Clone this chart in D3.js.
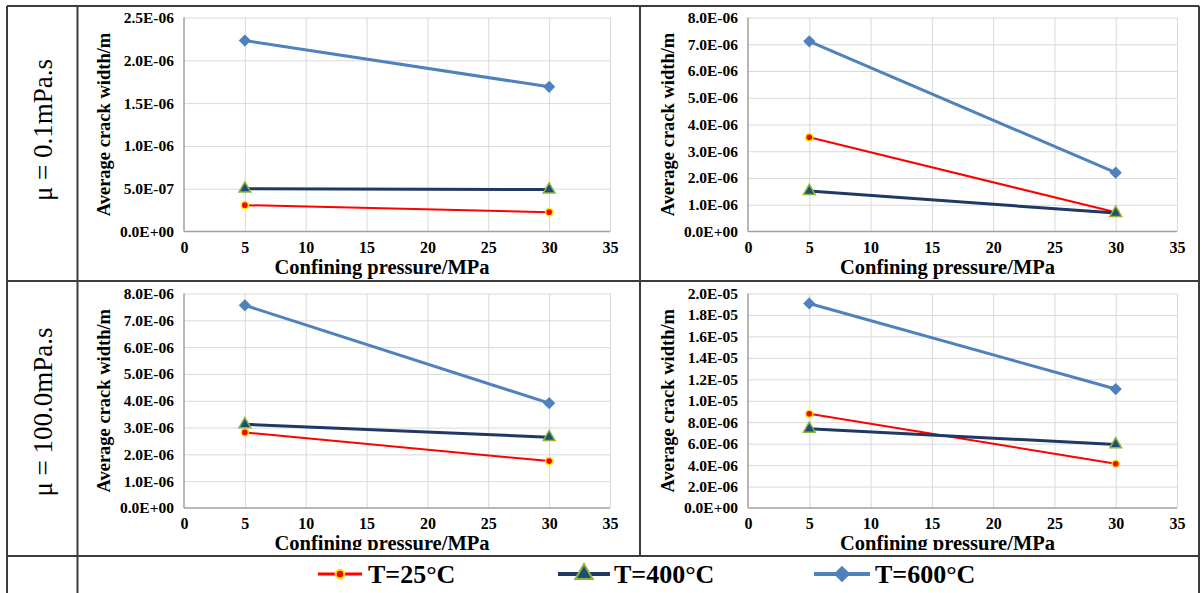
<!DOCTYPE html>
<html>
<head>
<meta charset="utf-8">
<script src="https://cdn.jsdelivr.net/npm/d3@7"></script>
<style>
  html, body { margin: 0; padding: 0; background: #fff; }
  svg { display: block; }
  svg text { font-family: "Liberation Serif", "DejaVu Serif", serif; }
</style>
</head>
<body>
<svg id="chart" width="1202" height="593"></svg>
<script>
// Confining pressure (MPa) at which each case was simulated
const pressures = [5, 30];
const xTicks = [0, 5, 10, 15, 20, 25, 30, 35];

// Legend / series labels
const seriesNames = ["T=25°C", "T=400°C", "T=600°C"];

// Row labels (fluid viscosity)
const rowLabels = ["μ = 0.1mPa.s", "μ = 100.0mPa.s"];

// Average crack width (m) — top-left panel
const panelA_T25 = [3.08e-7, 2.26e-7];
const panelA_T400 = [5.0e-7, 4.9e-7];
const panelA_T600 = [2.23e-6, 1.69e-6];

// top-right panel
const panelB_T25 = [3.52e-6, 0.72e-6];
const panelB_T400 = [1.51e-6, 0.69e-6];
const panelB_T600 = [7.11e-6, 2.20e-6];

// bottom-left panel
const panelC_T25 = [2.82e-6, 1.75e-6];
const panelC_T400 = [3.12e-6, 2.64e-6];
const panelC_T600 = [7.56e-6, 3.91e-6];

// bottom-right panel
const panelD_T25 = [8.79e-6, 4.13e-6];
const panelD_T400 = [7.39e-6, 5.93e-6];
const panelD_T600 = [1.907e-5, 1.109e-5];

// Y-axis extents and tick steps per panel
const yMaxA = 2.5e-6, yStepA = 0.5e-6;
const yMaxB = 8e-6, yStepB = 1e-6;
const yMaxC = 8e-6, yStepC = 1e-6;
const yMaxD = 2e-5, yStepD = 2e-6;

const xLabel = "Confining pressure/MPa";
const yLabel = "Average crack width/m";

const FONT = '"Liberation Serif", "DejaVu Serif", serif';

// ---- styling ----
const styles = [
  { line: "#ff0000", width: 2, marker: "circle", fill: "#ff0000", stroke: "#ffe600" },
  { line: "#1f3864", width: 3, marker: "triangle", fill: "#1f4e79", stroke: "#8db53c" },
  { line: "#4f81bd", width: 3, marker: "diamond", fill: "#4f81bd", stroke: "#4f81bd" }
];

const panels = [
  { row: 0, col: 0, series: [panelA_T25, panelA_T400, panelA_T600], yMax: yMaxA, yStep: yStepA },
  { row: 0, col: 1, series: [panelB_T25, panelB_T400, panelB_T600], yMax: yMaxB, yStep: yStepB },
  { row: 1, col: 0, series: [panelC_T25, panelC_T400, panelC_T600], yMax: yMaxC, yStep: yStepC },
  { row: 1, col: 1, series: [panelD_T25, panelD_T400, panelD_T600], yMax: yMaxD, yStep: yStepD }
];

// plot-area geometry
const colLeft = [184, 748], colRight = [610, 1177];
const rowTop = [17.5, 293.5], rowBottom = [231.5, 508];
const rowClip = [280, 550];

const svg = d3.select("#chart");

// Excel-style scientific format, e.g. 2.5E-06, 0.0E+00
function sci(v) {
  if (Math.abs(v) < 1e-20) return "0.0E+00";
  const s = d3.format(".1e")(v); // "2.5e-6"
  const [m, e] = s.split("e");
  const n = +e;
  return m + "E" + (n < 0 ? "-" : "+") + String(Math.abs(n)).padStart(2, "0");
}

function markerPath(type, size) {
  if (type === "circle") return d3.symbol(d3.symbolCircle, size)();
  if (type === "triangle") return d3.symbol(d3.symbolTriangle, size)();
  return d3.symbol(d3.symbolDiamond2 || d3.symbolDiamond, size)();
}

const defs = svg.append("defs");

panels.forEach((p, i) => {
  const x0 = colLeft[p.col], x1 = colRight[p.col];
  const yT = rowTop[p.row], yB = rowBottom[p.row];

  defs.append("clipPath").attr("id", "clip" + i)
    .append("rect").attr("x", 0).attr("y", 0).attr("width", 1202).attr("height", rowClip[p.row]);

  const g = svg.append("g").attr("clip-path", `url(#clip${i})`);

  const x = d3.scaleLinear().domain([0, 35]).range([x0, x1]);
  const y = d3.scaleLinear().domain([0, p.yMax]).range([yB, yT]);
  const nY = Math.round(p.yMax / p.yStep);
  const yTicks = d3.range(nY + 1).map(k => k * p.yStep);

  // gridlines
  g.append("g").attr("transform", `translate(0,${yB})`)
    .call(d3.axisBottom(x).tickValues(xTicks.slice(1)).tickSize(-(yB - yT)).tickFormat(""))
    .call(s => s.select(".domain").remove())
    .call(s => s.selectAll("line").attr("stroke", "#d9d9d9").attr("stroke-width", 1));
  g.append("g").attr("transform", `translate(${x0},0)`)
    .call(d3.axisLeft(y).tickValues(yTicks.slice(1)).tickSize(-(x1 - x0)).tickFormat(""))
    .call(s => s.select(".domain").remove())
    .call(s => s.selectAll("line").attr("stroke", "#d9d9d9").attr("stroke-width", 1));

  // axis lines
  g.append("line").attr("x1", x0).attr("x2", x0).attr("y1", yT).attr("y2", yB)
    .attr("stroke", "#a0a0a0").attr("stroke-width", 1.5);
  g.append("line").attr("x1", x0).attr("x2", x1).attr("y1", yB).attr("y2", yB)
    .attr("stroke", "#a0a0a0").attr("stroke-width", 1.5);

  // y tick labels
  g.append("g").attr("transform", `translate(${x0},0)`)
    .call(d3.axisLeft(y).tickValues(yTicks).tickSize(0).tickPadding(10).tickFormat(sci))
    .call(s => s.select(".domain").remove())
    .call(s => s.selectAll("text").style("font-family", FONT)
      .attr("font-weight", "bold").attr("font-size", 15.5).attr("fill", "#000"));

  // x tick labels
  g.append("g").attr("transform", `translate(0,${yB})`)
    .call(d3.axisBottom(x).tickValues(xTicks).tickSize(0).tickPadding(10).tickFormat(d3.format("d")))
    .call(s => s.select(".domain").remove())
    .call(s => s.selectAll("text").style("font-family", FONT)
      .attr("font-weight", "bold").attr("font-size", 16).attr("fill", "#000"));

  // axis titles
  g.append("text").attr("x", (x0 + x1) / 2 - 15).attr("y", yB + 42)
    .style("font-family", FONT)
    .attr("text-anchor", "middle").attr("font-weight", "bold").attr("font-size", 20.5)
    .text(xLabel);
  g.append("text")
    .attr("transform", `translate(${x0 - 74},${(yT + yB) / 2}) rotate(-90)`)
    .style("font-family", FONT)
    .attr("text-anchor", "middle").attr("font-weight", "bold").attr("font-size", 18.5)
    .text(yLabel);

  // series lines and markers
  const line = d3.line().x((d, k) => x(pressures[k])).y(d => y(d));
  p.series.forEach((vals, si) => {
    const st = styles[si];
    g.append("path").datum(vals).attr("d", line)
      .attr("fill", "none").attr("stroke", st.line).attr("stroke-width", st.width);
    const size = st.marker === "circle" ? 40 : st.marker === "triangle" ? 60 : 65;
    g.selectAll(null).data(vals).enter().append("path")
      .attr("d", markerPath(st.marker, size))
      .attr("transform", (d, k) => `translate(${x(pressures[k])},${y(d)})`)
      .attr("fill", st.fill).attr("stroke", st.stroke).attr("stroke-width", 1.5);
  });
});

// row labels
const rowCenters = [130, 412];
rowLabels.forEach((t, r) => {
  svg.append("text")
    .attr("transform", `translate(52,${rowCenters[r]}) rotate(-90)`)
    .style("font-family", FONT)
    .attr("text-anchor", "middle").attr("font-size", 27).attr("fill", "#000")
    .text(t);
});

// legend
const legendItems = [
  { x0: 318, x1: 362, tx: 368 },
  { x0: 558, x1: 610, tx: 614 },
  { x0: 814, x1: 870, tx: 875 }
];
const legY = 574;
seriesNames.forEach((name, si) => {
  const st = styles[si], L = legendItems[si];
  svg.append("line").attr("x1", L.x0).attr("x2", L.x1).attr("y1", legY).attr("y2", legY)
    .attr("stroke", st.line).attr("stroke-width", st.width + 1);
  const size = st.marker === "circle" ? 60 : st.marker === "triangle" ? 130 : 120;
  svg.append("path").attr("d", markerPath(st.marker, size))
    .attr("transform", `translate(${(L.x0 + L.x1) / 2},${legY})`)
    .attr("fill", st.fill).attr("stroke", st.stroke).attr("stroke-width", 2);
  svg.append("text").attr("x", L.tx).attr("y", legY + 9)
    .style("font-family", FONT)
    .attr("font-weight", "bold").attr("font-size", 26).attr("fill", "#000")
    .text(name);
});

// table frame
const frame = svg.append("g").attr("stroke", "#3c3c3c").attr("stroke-width", 2).attr("fill", "none");
const hLines = [6, 281, 556];
hLines.forEach(yy => frame.append("line").attr("x1", 7).attr("x2", 1199).attr("y1", yy).attr("y2", yy));
frame.append("line").attr("x1", 7).attr("x2", 7).attr("y1", 6).attr("y2", 593);
frame.append("line").attr("x1", 1199).attr("x2", 1199).attr("y1", 6).attr("y2", 593);
frame.append("line").attr("x1", 77.5).attr("x2", 77.5).attr("y1", 6).attr("y2", 593);
frame.append("line").attr("x1", 640).attr("x2", 640).attr("y1", 6).attr("y2", 556);
</script>
</body>
</html>
